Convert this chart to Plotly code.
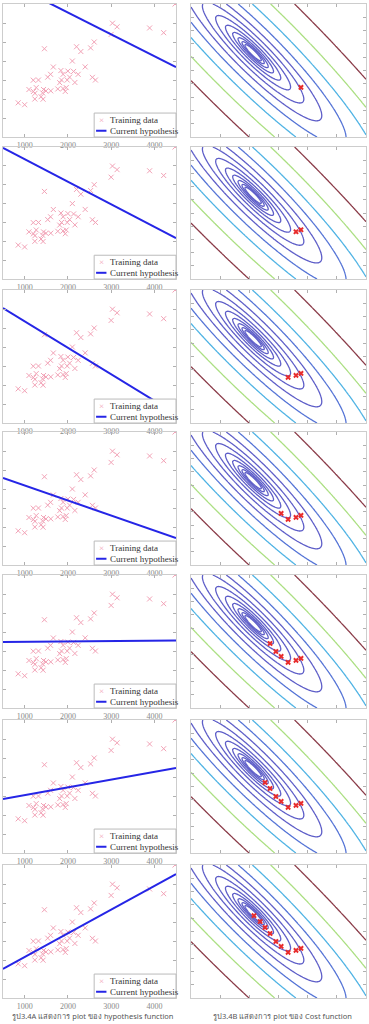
import numpy as np
import plotly.graph_objects as go
from plotly.subplots import make_subplots

# ---------------- data ----------------
house_size = [2104, 1600, 2400, 1416, 3000, 1985, 1534, 1427, 1380, 1494, 1940, 2000,
              1890, 4478, 1268, 2300, 1320, 1236, 2609, 3031, 1767, 1888, 1604, 1962,
              3890, 1100, 1458, 2526, 2200, 2637, 1839, 1000, 2040, 3137, 1811, 1437,
              1239, 2132, 4215, 2162, 1664, 2238, 2567, 1200, 852, 1852, 1203]
house_price = [399900, 329900, 369000, 232000, 539900, 299900, 314900, 198999, 212000,
               242500, 239999, 347000, 329999, 699900, 259900, 449900, 299900, 199900,
               499998, 599000, 252900, 255000, 242900, 259900, 573900, 249900, 464500,
               469000, 475000, 299900, 349900, 169900, 314900, 579900, 285900, 249900,
               229900, 345000, 549000, 287000, 368500, 329900, 314000, 299000, 179900,
               299900, 239500]

# hypothesis h(x) = theta0 + theta1 * x for each snapshot (rows 1..7)
hyp_theta0 = [885000, 755000, 675000, 497500, 347000, 263600, 90600]
hyp_theta1 = [-114.9, -119.5, -139.4, -79.0, 1.75, 40.75, 124.75]
line_x = [500, 4500]

# gradient-descent history on the cost surface (plot units)
gd_theta0 = [3.77, 3.60, 3.33, 3.09, 2.91, 2.71, 2.54, 2.37, 2.16]
gd_theta1 = [3.73, 3.58, 3.43, 3.88, 4.25, 4.85, 5.30, 5.75, 6.19]
steps_shown = [1, 2, 3, 4, 6, 7, 9]

x_ticks = [1000, 2000, 3000, 4000]

# cost surface parameters (plot units)
cost_center = (2.13, 6.34)

# ---------------- layout geometry ----------------
W, H = 369, 1024
rows_px = [(4, 137), (147, 279), (290, 423), (432, 565), (575, 708), (720, 853), (865, 998)]
left_px = (3, 176)
right_px = (191, 366)

fig = make_subplots(rows=7, cols=2)

# contour surface
gx = np.linspace(0, 6, 261)
gy = np.linspace(0, 10, 261)
GX, GY = np.meshgrid(gx, gy)
kx = (right_px[1] - right_px[0]) / 6.0
ky = 134 / 10.0
dxp = (GX - cost_center[0]) * kx
dyp = (GY - cost_center[1]) * ky
s = (dxp - dyp) / np.sqrt(2)
t = (dxp + dyp) / np.sqrt(2)
J = (s / 5.0) ** 2 + t ** 2
Z = np.log(np.sqrt(J) / 64.0) / np.log(1.354) + 19

lev_lo, lev_hi = 8, 19
purple, blue, cyan, green, brown = "#5e5ec8", "#5574d6", "#4fb3e4", "#abdf82", "#8a3b48"
span = lev_hi - lev_lo


def nrm(v):
    return (v - lev_lo) / span


cs = [[0, purple], [nrm(15.5), purple], [nrm(15.5), blue], [nrm(16.5), blue],
      [nrm(16.5), cyan], [nrm(17.5), cyan], [nrm(17.5), green], [nrm(18.5), green],
      [nrm(18.5), brown], [1, brown]]

pink = "#f2a2b6"
serif = "Liberation Serif, Times New Roman, serif"

for i in range(7):
    r = i + 1
    # ----- left: data + hypothesis -----
    fig.add_trace(go.Scatter(x=house_size, y=house_price, mode="markers",
                             marker=dict(symbol="x-thin-open", size=5, color=pink,
                                         line=dict(color=pink, width=1)),
                             showlegend=False), row=r, col=1)
    ly = [hyp_theta0[i] + hyp_theta1[i] * xv for xv in line_x]
    fig.add_trace(go.Scatter(x=line_x, y=ly, mode="lines",
                             line=dict(color="#2525e6", width=2), showlegend=False),
                  row=r, col=1)
    # ----- right: cost contour + descent path -----
    fig.add_trace(go.Contour(x=gx, y=gy, z=Z, zmin=lev_lo, zmax=lev_hi, colorscale=cs,
                             contours=dict(coloring="lines", start=lev_lo, end=lev_hi, size=1),
                             line=dict(width=1.3), showscale=False, hoverinfo="skip"),
                  row=r, col=2)
    n = steps_shown[i]
    fig.add_trace(go.Scatter(x=gd_theta0[:n], y=gd_theta1[:n], mode="markers",
                             marker=dict(symbol="x", size=5, color="#e82c2c",
                                         line=dict(width=0)),
                             showlegend=False), row=r, col=2)

    top, bot = rows_px[i]
    ydom = [1 - bot / H, 1 - top / H]
    li = 2 * i + 1
    ri = 2 * i + 2
    lname = "" if li == 1 else str(li)
    rname = str(ri)
    common = dict(showgrid=False, zeroline=False, showline=True, linecolor="#cdcdcd",
                  linewidth=1, mirror="ticks", ticks="inside", ticklen=3,
                  tickcolor="#b0b0b0")
    fig.layout["xaxis" + lname].update(domain=[left_px[0] / W, left_px[1] / W],
                                       range=[500, 4500], tickvals=x_ticks,
                                       tickfont=dict(size=8, color="#888", family=serif),
                                       **common)
    fig.layout["yaxis" + lname].update(domain=ydom, range=[0, 700000], dtick=100000,
                                       showticklabels=False, **common)
    fig.layout["xaxis" + rname].update(domain=[right_px[0] / W, right_px[1] / W],
                                       range=[0, 6], dtick=1, showticklabels=False,
                                       **common)
    fig.layout["yaxis" + rname].update(domain=ydom, range=[0, 10], dtick=1,
                                       showticklabels=False, **common)

    # ----- legend box (manual) -----
    xr = "x" + lname + " domain"
    yr = "y" + lname + " domain"
    fig.add_shape(type="rect", xref=xr, yref=yr, x0=0.527, x1=1.0, y0=0.0, y1=0.18,
                  line=dict(color="#bbbbbb", width=1), fillcolor="white", layer="above")
    fig.add_shape(type="line", xref=xr, yref=yr, x0=0.538, x1=0.598, y0=0.047, y1=0.047,
                  line=dict(color="#2525e6", width=2))
    fig.add_annotation(xref=xr, yref=yr, x=0.567, y=0.128, text="×", showarrow=False,
                       font=dict(size=9, color=pink, family=serif),
                       xanchor="center", yanchor="middle")
    fig.add_annotation(xref=xr, yref=yr, x=0.607, y=0.128, text="Training data",
                       showarrow=False, font=dict(size=9, color="#333", family=serif),
                       xanchor="left", yanchor="middle")
    fig.add_annotation(xref=xr, yref=yr, x=0.607, y=0.047, text="Current hypothesis",
                       showarrow=False, font=dict(size=9, color="#333", family=serif),
                       xanchor="left", yanchor="middle")

# captions
fig.add_annotation(xref="paper", yref="paper", x=93 / W, y=1 - 1016 / H,
                   text="รูป3.4A แสดงการ plot ของ hypothesis function", showarrow=False,
                   font=dict(size=7.5, color="#555", family="Noto Sans, DejaVu Sans, sans-serif"),
                   xanchor="center", yanchor="middle")
fig.add_annotation(xref="paper", yref="paper", x=282 / W, y=1 - 1016 / H,
                   text="รูป3.4B แสดงการ plot ของ Cost function", showarrow=False,
                   font=dict(size=7.5, color="#555", family="Noto Sans, DejaVu Sans, sans-serif"),
                   xanchor="center", yanchor="middle")

fig.update_layout(width=W, height=H, margin=dict(l=0, r=0, t=0, b=0),
                  paper_bgcolor="white", plot_bgcolor="white", showlegend=False)

fig.write_html("out.html", config={"displayModeBar": False},
               post_script="document.body.style.margin='0';document.body.style.overflow='hidden';")
